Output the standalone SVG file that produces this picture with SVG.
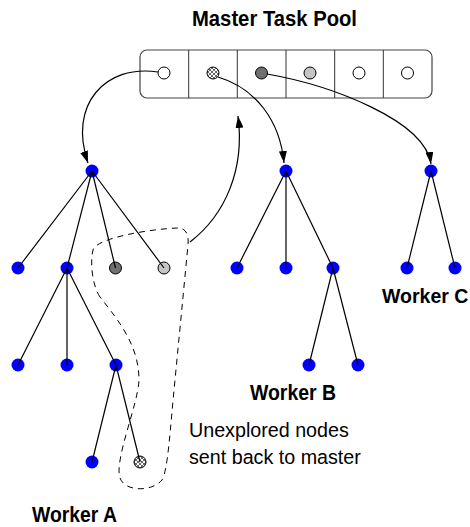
<svg xmlns="http://www.w3.org/2000/svg" width="470" height="527" viewBox="0 0 470 527">
<style>
.lbl{font-family:"Liberation Sans",Arial,sans-serif;font-weight:bold;font-size:22px;fill:#000}
.lblc{font-family:"Liberation Sans",Arial,sans-serif;font-weight:bold;font-size:19.5px;fill:#000}
.txt{font-family:"Liberation Sans",Arial,sans-serif;font-size:19.7px;fill:#000}
.blue{fill:#0000ff}
.edge{stroke:#000;stroke-width:1.2;fill:none}
.arr{stroke:#000;stroke-width:1.2;fill:none;marker-end:url(#ah)}
.pc{fill:#fff;stroke:#000;stroke-width:1}
.dark{fill:#707070;stroke:#000;stroke-width:1}
.light{fill:#c4c4c4;stroke:#000;stroke-width:1}
.hatch{fill:url(#hp);stroke:#000;stroke-width:1}
</style>
<defs>
<marker id="ah" markerUnits="userSpaceOnUse" markerWidth="12" markerHeight="8" refX="12" refY="4" orient="auto">
<path d="M0,0 L12,4 L0,8 z" fill="#000"/>
</marker>
<pattern id="hp" patternUnits="userSpaceOnUse" width="4" height="4">
<rect width="4" height="4" fill="#fff"/>
<path d="M0,0 L4,4 M4,0 L0,4" stroke="#000" stroke-width="0.6"/>
</pattern>
</defs>

<g id="title"><text class="lbl" x="192" y="26" textLength="165" lengthAdjust="spacingAndGlyphs">Master Task Pool</text></g>

<g id="pool">
<rect x="140" y="50" width="292" height="48" rx="7" fill="#fff" stroke="#444" stroke-width="1.2"/>
<path d="M188.7,50 V98 M237.3,50 V98 M286,50 V98 M334.7,50 V98 M383.3,50 V98" stroke="#333" stroke-width="1"/>
<circle class="pc" cx="164" cy="73" r="6"/>
<circle class="hatch" cx="213" cy="73" r="6"/>
<circle class="dark" cx="261.5" cy="73" r="6"/>
<circle class="light" cx="310" cy="73" r="6"/>
<circle class="pc" cx="359" cy="73" r="6"/>
<circle class="pc" cx="407.5" cy="73" r="6"/>
</g>

<g id="workerA">
<circle class="blue" cx="92" cy="171" r="6.5"/>
<circle class="blue" cx="18" cy="268" r="6.5"/>
<circle class="blue" cx="67" cy="268" r="6.5"/>
<circle class="dark" cx="115.5" cy="268" r="6"/>
<circle class="light" cx="164" cy="268" r="6"/>
<circle class="blue" cx="18" cy="365" r="6.5"/>
<circle class="blue" cx="67" cy="365" r="6.5"/>
<circle class="blue" cx="116" cy="365" r="6.5"/>
<circle class="blue" cx="92" cy="462" r="6.5"/>
<circle class="hatch" cx="140" cy="462" r="6"/>
<text class="lbl" x="32" y="522" textLength="85" lengthAdjust="spacingAndGlyphs">Worker A</text>
</g>

<g id="workerB">
<circle class="blue" cx="286" cy="171" r="6.5"/>
<circle class="blue" cx="237" cy="268" r="6.5"/>
<circle class="blue" cx="286" cy="268" r="6.5"/>
<circle class="blue" cx="333" cy="268" r="6.5"/>
<circle class="blue" cx="309" cy="365" r="6.5"/>
<circle class="blue" cx="358" cy="365" r="6.5"/>
<text class="lbl" x="250" y="400" textLength="86" lengthAdjust="spacingAndGlyphs">Worker B</text>
</g>

<g id="workerC">
<circle class="blue" cx="431" cy="171" r="6.5"/>
<circle class="blue" cx="407" cy="268" r="6.5"/>
<circle class="blue" cx="455" cy="268" r="6.5"/>
<text class="lblc" x="382" y="303">Worker C</text>
</g>

<g id="note">
<path d="M100,297 C92,285 90,262 93,250 C96,238 150,229 178,228 C186,228 189,235 188,245 L175,380 C170,430 168,470 162,480 C152,492 125,492 120,478 C114,460 138,405 139,380 C139,345 118,320 100,297 Z" fill="none" stroke="#000" stroke-width="1" stroke-dasharray="6,5"/>
<text class="txt" x="189" y="437">Unexplored nodes</text>
<text class="txt" x="189" y="464">sent back to master</text>
</g>

<g id="connectors">
<path class="edge" d="M92,171 L18,268 M92,171 L67,268 M92,171 L115.5,268 M92,171 L164,268 M67,268 L18,365 M67,268 L67,365 M67,268 L116,365 M116,365 L92,462 M116,365 L140,462"/>
<path class="edge" d="M286,171 L237,268 M286,171 L286,268 M286,171 L333,268 M333,268 L309,365 M333,268 L358,365"/>
<path class="edge" d="M431,171 L407,268 M431,171 L455,268"/>
<path class="arr" d="M158,72 C105,64 68,105 88,163"/>
<path class="arr" d="M218,77 C255,88 280,120 284,163"/>
<path class="arr" d="M267,74 C330,85 425,120 431,164"/>
<path class="arr" d="M190,242 C225,215 245,170 238,116"/>
</g>
</svg>
